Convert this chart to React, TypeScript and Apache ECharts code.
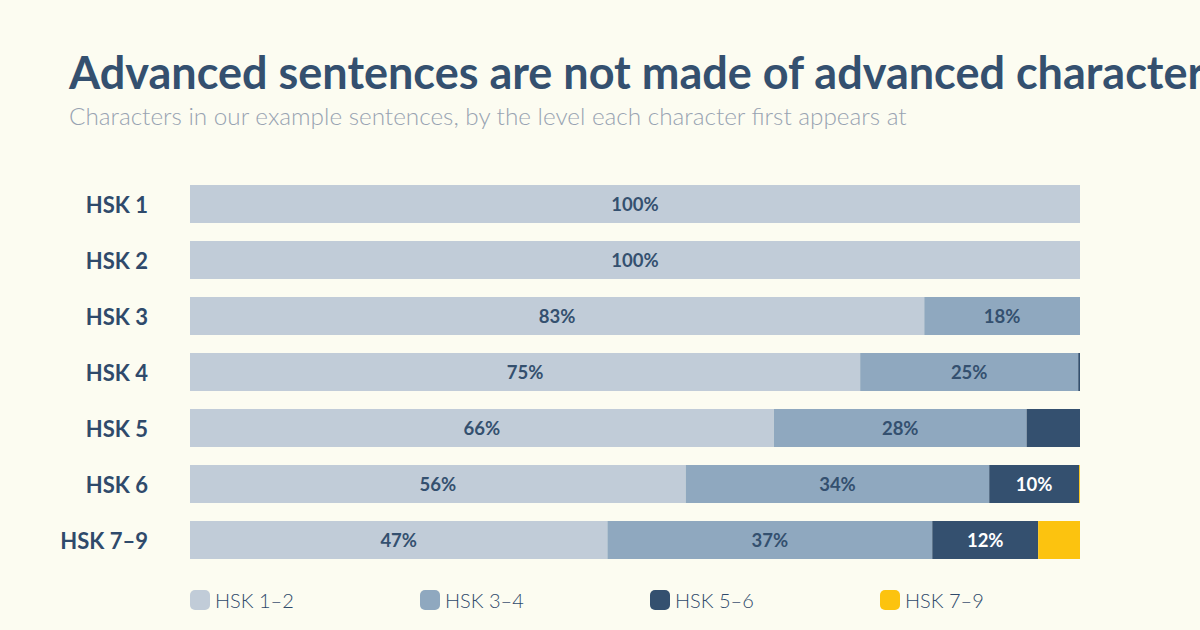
import React, { useEffect, useRef } from 'react'
import * as echarts from 'echarts'

const categories = ['HSK 1', 'HSK 2', 'HSK 3', 'HSK 4', 'HSK 5', 'HSK 6', 'HSK 7–9']
const seriesNames = ['HSK 1–2', 'HSK 3–4', 'HSK 5–6', 'HSK 7–9']
const hsk12 = [100, 100, 82.5, 75.3, 65.6, 55.7, 46.9]
const hsk34 = [0, 0, 17.5, 24.5, 28.4, 34.1, 36.5]
const hsk56 = [0, 0, 0, 0.2, 6, 10.1, 11.9]
const hsk79 = [0, 0, 0, 0, 0, 0.1, 4.7]
const colors = ['#c1ccd8', '#8fa8bf', '#34506f', '#fcc30f']
const labelColors = ['#34506f', '#34506f', '#ffffff', '#34506f']

const FONT = 'Lato, "Open Sans", sans-serif'

const App: React.FC = () => {
  const chartRef = useRef<HTMLDivElement>(null)

  useEffect(() => {
    document.body.style.margin = '0'
    document.body.style.background = '#fcfcf1'
    if (!chartRef.current) return
    const chart = echarts.init(chartRef.current, null, { renderer: 'svg' })
    const allData = [hsk12, hsk34, hsk56, hsk79]

    const series = seriesNames.map((name, i) => ({
      name,
      type: 'bar',
      stack: 'total',
      data: allData[i],
      barWidth: 38,
      itemStyle: { color: colors[i] },
      label: {
        show: true,
        position: 'inside',
        color: labelColors[i],
        fontFamily: FONT,
        fontSize: 18.5,
        fontWeight: 'bold',
        formatter: (p: any) => (p.value >= 8 ? Math.round(p.value) + '%' : '')
      }
    }))

    const option: any = {
      animation: false,
      backgroundColor: '#fcfcf1',
      title: {
        text: 'Advanced sentences are not made of advanced characters',
        subtext: 'Characters in our example sentences, by the level each character first appears at',
        left: 64,
        top: 44,
        itemGap: 9,
        textStyle: {
          fontFamily: FONT,
          fontSize: 45,
          fontWeight: 'bold',
          color: '#34506f'
        },
        subtextStyle: {
          fontFamily: FONT,
          fontSize: 24.3,
          fontWeight: 300,
          color: '#98a3b2'
        }
      },
      grid: {
        left: 190,
        right: 120,
        top: 176,
        height: 392
      },
      xAxis: {
        type: 'value',
        min: 0,
        max: 100,
        show: false
      },
      yAxis: {
        type: 'category',
        data: categories,
        inverse: true,
        axisLine: { show: false },
        axisTick: { show: false },
        axisLabel: {
          margin: 42,
          fontFamily: FONT,
          fontSize: 22,
          fontWeight: 'bold',
          color: '#2f4a6b'
        }
      },
      legend: seriesNames.map((name, i) => ({
        data: [name],
        left: 190 + i * 230,
        top: 590,
        padding: 0,
        icon: 'roundRect',
        itemWidth: 20,
        itemHeight: 20,
        itemGap: 8,
        selectedMode: false,
        textStyle: {
          fontFamily: FONT,
          fontSize: 20,
          fontWeight: 300,
          color: '#2f4a6b'
        }
      })),
      series
    }

    chart.setOption(option)
    return () => {
      chart.dispose()
    }
  }, [])

  return <div ref={chartRef} style={{ width: '1200px', height: '630px' }} />
}

export default App
